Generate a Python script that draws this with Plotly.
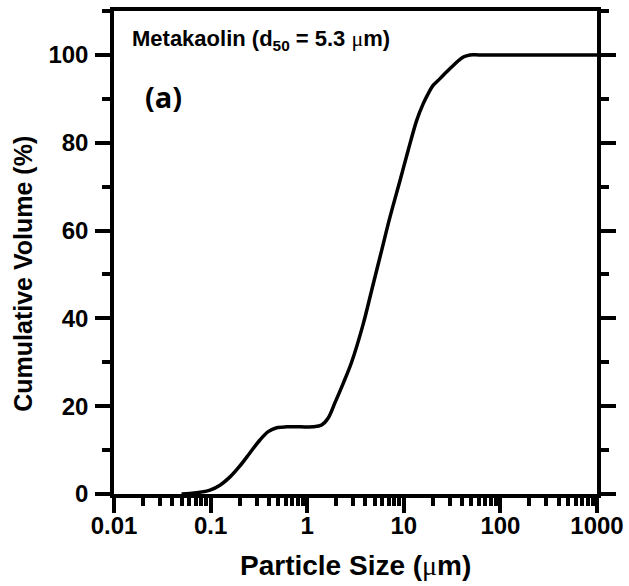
import plotly.graph_objects as go

# Cumulative particle size distribution of metakaolin
particle_size_um = [0.05, 0.061, 0.0986, 0.125, 0.159, 0.201, 0.256, 0.324, 0.395, 0.483,
                    0.614, 0.85, 1.157, 1.41, 1.65, 1.94, 2.36, 2.88, 3.81, 4.65,
                    5.9, 7.2, 9.14, 11.1, 13.6, 15.9, 17.9, 20.2, 23.7, 30.1,
                    41.3, 48.4, 60.0, 100.0, 1000.0]
cumulative_volume = [0.0, 0.1, 0.9, 2.0, 3.9, 6.4, 9.4, 12.3, 14.2, 15.1,
                     15.3, 15.3, 15.3, 15.7, 17.3, 20.8, 25.2, 30.0, 38.8, 46.4,
                     55.5, 63.1, 71.4, 78.3, 85.1, 88.9, 91.2, 93.1, 94.6, 96.9,
                     99.5, 100.0, 100.0, 100.0, 100.0]

x_tick_vals = [0.01, 0.1, 1, 10, 100, 1000]
x_tick_text = ["0.01", "0.1", "1", "10", "100", "1000"]
y_tick_vals = [0, 20, 40, 60, 80, 100]

FONT = "Liberation Sans, Arial, sans-serif"
MU = "<span style=\"font-family:'Liberation Serif';font-weight:normal\">μ</span>"

fig = go.Figure()
fig.add_trace(go.Scatter(
    x=particle_size_um, y=cumulative_volume, mode="lines",
    line=dict(color="black", width=3.5, shape="spline", smoothing=0.9),
    showlegend=False, hoverinfo="skip",
))

axis_common = dict(
    showline=True, linecolor="black", linewidth=3.5,
    ticks="outside", tickcolor="black", tickwidth=3.5, ticklen=15,
    showgrid=False, zeroline=False, automargin=False,
    tickfont=dict(family=FONT, size=24, color="black", weight="bold"),
)

fig.update_xaxes(
    type="log", range=[-2, 3], tickvals=x_tick_vals, ticktext=x_tick_text,
    mirror=True, ticklabelstandoff=-8,
    minor=dict(ticks="outside", ticklen=8, tickwidth=3.5, tickcolor="black",
               dtick="D1", showgrid=False),
    **axis_common,
)
fig.update_yaxes(
    range=[0, 110], tickvals=y_tick_vals,
    mirror="allticks", ticklabelstandoff=2,
    minor=dict(ticks="outside", ticklen=8, tickwidth=3.5, tickcolor="black",
               dtick=10, tick0=0, showgrid=False),
    **axis_common,
)

fig.add_annotation(
    x=0.5, y=-0.149, xref="paper", yref="paper", xanchor="center", yanchor="middle",
    text=f"<b>Particle Size ({MU}m)</b>", showarrow=False,
    font=dict(family=FONT, size=28, color="black"),
)
fig.add_annotation(
    x=-0.19, y=0.4565, xref="paper", yref="paper", xanchor="center", yanchor="middle",
    text="<b>Cumulative Volume (%)</b>", textangle=-90, showarrow=False,
    font=dict(family=FONT, size=25, color="black"),
)
fig.add_annotation(
    x=0.033, y=0.94, xref="paper", yref="paper", xanchor="left", yanchor="middle",
    text=f"<b>Metakaolin (d<sub>50</sub> = 5.3 {MU}m)</b>", showarrow=False,
    font=dict(family=FONT, size=22, color="black"),
)
fig.add_annotation(
    x=0.06, y=0.822, xref="paper", yref="paper", xanchor="left", yanchor="middle",
    text="<b>(a)</b>", showarrow=False,
    font=dict(family="Open Sans, sans-serif", size=29, color="black"),
)

fig.update_layout(
    width=629, height=586,
    margin=dict(l=114, r=32, t=11, b=92, autoexpand=False),
    paper_bgcolor="white", plot_bgcolor="white",
)

fig.write_html("out.html")
